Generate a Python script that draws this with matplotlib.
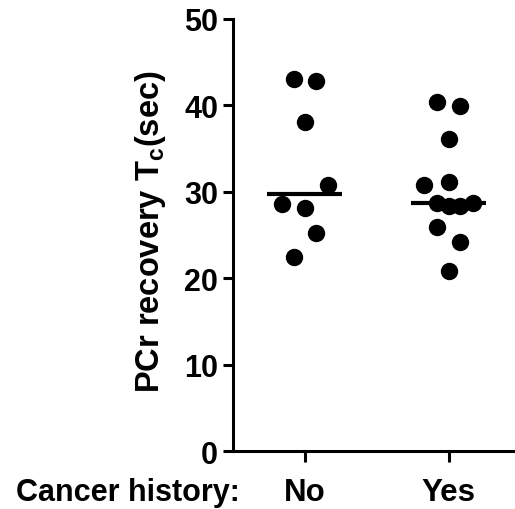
import numpy as np
import matplotlib
matplotlib.use("Agg")
import matplotlib.pyplot as plt
from matplotlib.transforms import blended_transform_factory, ScaledTranslation

plt.rcParams['font.family'] = ['Liberation Sans', 'DejaVu Sans']
plt.rcParams['font.weight'] = 'bold'
plt.rcParams['mathtext.fontset'] = 'custom'
plt.rcParams['mathtext.rm'] = 'Liberation Sans:bold'
plt.rcParams['mathtext.default'] = 'rm'

# data
groups = ["No", "Yes"]
no_vals = [43.0, 42.8, 38.1, 30.8, 28.6, 28.1, 25.2, 22.5]
no_jitter = [-0.076, 0.081, 0.0, 0.16, -0.16, 0.0, 0.081, -0.076]
yes_vals = [40.4, 39.9, 36.1, 30.8, 31.1, 28.75, 28.4, 28.4, 28.75, 25.9, 24.2, 20.8]
yes_jitter = [-0.083, 0.076, 0.0, -0.174, 0.0, -0.08, 0.0, 0.076, 0.17, -0.08, 0.076, 0.0]

fig = plt.figure(figsize=(5.15, 5.10), dpi=100)
ax = fig.add_axes([0.452, 0.1137, 0.548, 0.8473])

for i, (vals, jit) in enumerate([(no_vals, no_jitter), (yes_vals, yes_jitter)]):
    ax.hlines(np.median(vals), i - 0.26, i + 0.26, color='black', lw=3, zorder=2)
    ax.plot(np.array(jit) + i, vals, 'o', color='black', ms=11.5, zorder=3, clip_on=False)

ax.set_ylim(0, 50)
ax.set_xlim(-0.5, 1.46)
ax.set_yticks([0, 10, 20, 30, 40, 50])
ax.set_xticks([0, 1])
ax.set_xticklabels(groups)

for s in ['top', 'right']:
    ax.spines[s].set_visible(False)
for s in ['left', 'bottom']:
    ax.spines[s].set_linewidth(2.2)

xlen, xpad = 8, 11
ax.tick_params(axis='y', length=7, width=2.2, pad=3.6, labelsize=22)
ax.tick_params(axis='x', length=xlen, width=2.2, pad=xpad, labelsize=22.5)

ax.set_ylabel("PCr recovery T$_{c}$(sec)", fontsize=23.5, fontweight='bold')
ax.yaxis.set_label_coords(-0.23, 0.509)

# row label on the same line as the x tick labels
trans = blended_transform_factory(ax.transData, ax.transAxes) + \
    ScaledTranslation(0, -(xlen + xpad) / 72, fig.dpi_scale_trans)
ax.text(-0.45, 0, "Cancer history:", transform=trans, ha='right', va='top',
        fontsize=22, fontweight='bold')

fig.savefig("out.png", dpi=100)
